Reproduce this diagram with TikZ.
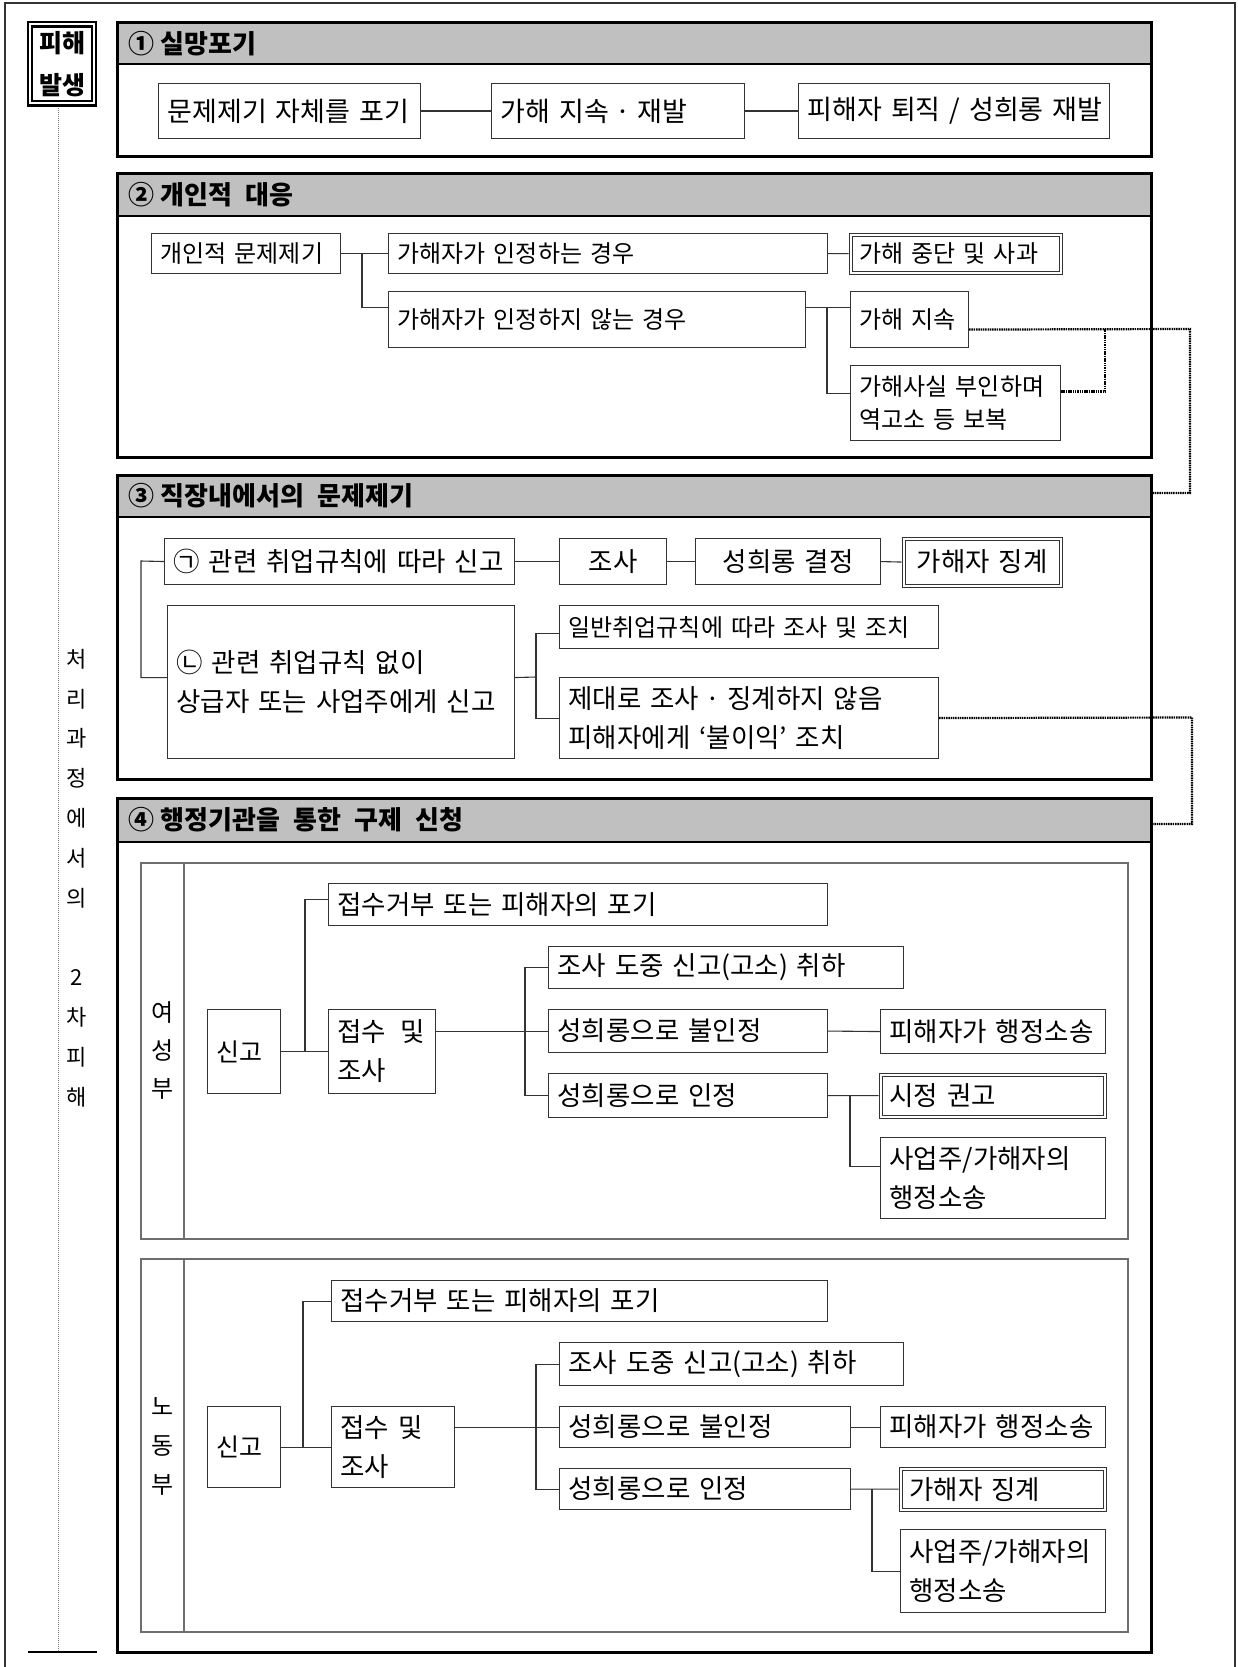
\documentclass[tikz,border=0pt]{standalone}
\usepackage{fontspec}
\setmainfont{Noto Sans CJK KR}[WordSpace=2.2]
\usetikzlibrary{calc}
\definecolor{hdr}{HTML}{C0C0C0}
\definecolor{ln}{HTML}{333333}
\definecolor{frmc}{HTML}{6E6E6E}
\newcommand{\dsp}{\hspace{0.25em}}
\begin{document}
\begin{tikzpicture}[x=1pt,y=-1pt,
  bx/.style={draw=ln, line width=1.1pt, rectangle, anchor=north west, inner xsep=9pt, inner ysep=0pt, align=left},
  cx/.style={bx, align=center},
  dbl/.style={draw=ln, double=white, double distance=1.8pt, line width=1.2pt},
  wh/.code 2 args={\pgfmathsetmacro\bxtw{#1-18}\edef\bxtmp{\noexpand\tikzset{minimum width=#1pt,minimum height=#2pt,text width=\bxtw pt}}\bxtmp},
  con/.style={draw=ln, line width=1.1pt},
  dot/.style={draw=black, line width=2.2pt, dash pattern=on 1.5pt off 0.8pt},
  vdot/.style={draw=gray, line width=0.9pt, dash pattern=on 0.9pt off 1.1pt},
  frm/.style={draw=frmc, line width=1.5pt},
  sec/.style={line width=3pt, draw=black},
  fone/.style={font=\fontsize{27}{34}\selectfont},
  ftwo/.style={font=\fontsize{24}{33}\selectfont},
  fthree/.style={font=\fontsize{26.5}{39.5}\selectfont},
  ffour/.style={font=\fontsize{25}{40}\selectfont},
  ffourb/.style={font=\fontsize{26.5}{39}\selectfont},
  hd/.style={anchor=west, inner sep=0pt, font=\fontsize{26}{30}\selectfont\bfseries},
]
\useasboundingbox (0,0) rectangle (1237,1667);
% outer frame
\draw[line width=1.3pt, draw=ln] (5,1667) -- (5,3) -- (1235,3) -- (1235,1667);

% ---------- sections ----------
\fill[hdr] (117,23) rectangle (1151,64);
\draw[line width=1.3pt] (117,64) -- (1151,64);
\draw[sec] (117,23) rectangle (1151,156);
\node[hd] (h1) at (128,43.5) {①\dsp{}실망포기};

\fill[hdr] (117,173) rectangle (1151,216);
\draw[line width=1.3pt] (117,216) -- (1151,216);
\draw[sec] (117,173) rectangle (1151,457);
\node[hd] (h2) at (128,194.5) {②\dsp{}개인적~대응};

\fill[hdr] (117,475) rectangle (1151,517);
\draw[line width=1.3pt] (117,517) -- (1151,517);
\draw[sec] (117,475) rectangle (1151,779);
\node[hd] (h3) at (128,496) {③\dsp{}직장내에서의~문제제기};

\fill[hdr] (117,798) rectangle (1151,842);
\draw[line width=1.3pt] (117,842) -- (1151,842);
\draw[sec] (117,798) rectangle (1151,1652);
\node[hd] (h4) at (128,820) {④\dsp{}행정기관을~통한~구제~신청};

% ---------- left column ----------
\node[draw=black, double=white, double distance=2pt, line width=2.4pt, minimum width=64pt, minimum height=79pt, inner sep=0pt, align=center, font=\fontsize{25}{42}\selectfont\bfseries] (pb) at (62,64) {피해\\발생};
\coordinate (pe) at (58,1652);
\draw[vdot] (pe |- pb.south) ++(0,3.4) -- (pe);
\coordinate (bl) at (28,1652);
\coordinate (br) at (97,1652);
\draw[line width=1.5pt] (bl) -- (br);
\node[font=\fontsize{22}{39.8}\selectfont, align=center, inner sep=0pt] (vt) at (77,878) {처\\리\\과\\정\\에\\서\\의\\[39.8pt]2\\차\\피\\해};

% ---------- section 1 ----------
\node[bx, wh={262}{55}, fone] (a1) at (158,83) {문제제기~자체를~포기};
\node[bx, wh={253}{55}, fone] (a2) at (491,83) {가해~지속\dsp{}·\dsp{}재발};
\node[bx, wh={311}{55}, fone] (a3) at (798,83) {피해자~퇴직~/~성희롱~재발};
\draw[con] (a1.east) -- (a2.west);
\draw[con] (a2.east) -- (a3.west);

% ---------- section 2 ----------
\node[bx, wh={189}{40}, ftwo] (b1) at (151,233) {개인적~문제제기};
\node[bx, wh={439}{40}, ftwo] (b2) at (388,233) {가해자가~인정하는~경우};
\node[bx, wh={417}{56}, ftwo] (b3) at (388,291) {가해자가~인정하지~않는~경우};
\node[bx, dbl, wh={210}{38}, ftwo] (b4) at (850,234) {가해~중단~및~사과};
\node[bx, wh={118}{56}, ftwo] (b5) at (850,291) {가해~지속};
\node[bx, wh={210}{75}, ftwo] (b6) at (850,365) {가해사실~부인하며\\역고소~등~보복};
\coordinate (j1) at (362,253);
\draw[con] (b1.east) -- (b2.west);
\draw[con] (j1) |- ([yshift=12pt]b3.west);
\draw[con, shorten >=1.5pt] (b2.east) -- (b4.west);
\coordinate (j2) at (827,307);
\draw[con] ([yshift=12pt]b3.east) -- ([yshift=12pt]b5.west);
\draw[con] (j2) |- ([yshift=9.5pt]b6.west);
\coordinate (d1) at (1190,329);
\coordinate (d2) at (1105,329);
\coordinate (s3e) at (1151,493);
\draw[dot] ([yshift=-10pt]b5.east) -- (d1) |- (s3e);
\draw[dot] ([yshift=11.5pt]b6.east) -| (d2);

% ---------- section 3 ----------
\node[bx, wh={350}{46}, fthree] (c1) at (164,538) {㉠~관련~취업규칙에~따라~신고};
\node[cx, wh={107}{46}, fthree] (c2) at (559,538) {조사};
\node[cx, wh={185}{46}, fthree] (c3) at (695,538) {성희롱~결정};
\node[cx, dbl, wh={157}{47}, fthree] (c4) at (903,538) {가해자~징계};
\node[bx, wh={347}{153}, fthree] (c5) at (167,605) {㉡~관련~취업규칙~없이\\상급자~또는~사업주에게~신고};
\node[bx, wh={379}{43}, font=\fontsize{24}{30}\selectfont] (c6) at (559,605) {일반취업규칙에~따라~조사~및~조치};
\node[bx, wh={379}{81}, fthree] (c7) at (559,677) {제대로~조사\dsp{}·\dsp{}징계하지~않음\\피해자에게~‘불이익’~조치};
\draw[con] (c1.east) -- (c2.west);
\draw[con] (c2.east) -- (c3.west);
\draw[con, shorten >=1.5pt] (c3.east) -- (c4.west);
\coordinate (j3) at (141,561);
\draw[con] (c1.west) -- (j3) |- ([yshift=4.5pt]c5.west);
\coordinate (j4) at (536,677);
\draw[con] ([yshift=4.5pt]c5.east) -- (j4);
\draw[con] (j4) |- ([yshift=-6.5pt]c6.west);
\draw[con] (j4) |- (c7.west);
\coordinate (d3) at (1192,717.5);
\coordinate (s4e) at (1151,824);
\draw[dot] (c7.east) -- (d3) |- (s4e);

% ---------- section 4 : 여성부 ----------
\draw[frm] (141,863) rectangle (1128,1239);
\draw[frm] (184,863) -- (184,1239);
\node[font=\fontsize{24}{38}\selectfont, align=center, inner sep=0pt] (ysb) at (162.5,1050) {여\\성\\부};
\node[bx, wh={73}{84}, ffour] (e1) at (207,1009) {신고};
\node[bx, wh={499}{42}, ffourb] (e2) at (328,883) {접수거부~또는~피해자의~포기};
\node[bx, wh={107}{84}, ffourb] (e3) at (328,1009) {\mbox{접수\hspace{0.55em}및}\\조사};
\node[bx, wh={355}{42}, ffourb] (e4) at (548,946) {조사~도중~신고(고소)~취하};
\node[bx, wh={279}{43}, ffourb] (e5) at (548,1009) {성희롱으로~불인정};
\node[bx, wh={279}{44}, ffourb] (e6) at (548,1073) {성희롱으로~인정};
\node[bx, wh={225}{44}, ffourb] (e7) at (880,1009) {피해자가~행정소송};
\node[bx, dbl, wh={224}{42}, ffourb] (e8) at (880,1074) {시정~권고};
\node[bx, wh={225}{81}, ffourb] (e9) at (880,1137) {사업주/가해자의\\행정소송};
\coordinate (j5) at (305,1051);
\draw[con] (e1.east) -- (e3.west);
\draw[con] (j5) |- ([yshift=5pt]e2.west);
\coordinate (j6) at (525,1030.5);
\draw[con] (e3.east |- e5.west) -- (e5.west);
\draw[con] (j6) |- (e4.west);
\draw[con] (j6) |- (e6.west);
\draw[con] (e5.east) -- (e7.west);
\coordinate (j7) at (850,1095);
\draw[con, shorten >=1.5pt] (e6.east) -- (e8.west);
\draw[con] (j7) |- ([yshift=11.5pt]e9.west);

% ---------- section 4 : 노동부 ----------
\draw[frm] (141,1259) rectangle (1128,1632);
\draw[frm] (184,1259) -- (184,1632);
\node[font=\fontsize{24}{39}\selectfont, align=center, inner sep=0pt] (ndb) at (162.5,1446) {노\\동\\부};
\node[bx, wh={73}{81}, ffour] (g1) at (207,1406) {신고};
\node[bx, wh={496}{41}, ffourb] (g2) at (331,1280) {접수거부~또는~피해자의~포기};
\node[bx, wh={123}{81}, ffourb] (g3) at (331,1406) {\mbox{접수~및}\\조사};
\node[bx, wh={344}{43}, ffourb] (g4) at (559,1342) {조사~도중~신고(고소)~취하};
\node[bx, wh={291}{41}, ffourb] (g5) at (559,1406) {성희롱으로~불인정};
\node[bx, wh={291}{41}, ffourb] (g6) at (559,1468) {성희롱으로~인정};
\node[bx, wh={225}{41}, ffourb] (g7) at (880,1406) {피해자가~행정소송};
\node[bx, dbl, wh={204}{41}, ffourb] (g8) at (900,1468) {가해자~징계};
\node[bx, wh={205}{83}, ffourb] (g9) at (900,1529) {사업주/가해자의\\행정소송};
\coordinate (j8) at (303,1446.5);
\draw[con] (g1.east) -- (g3.west);
\draw[con] (j8) |- (g2.west);
\coordinate (j9) at (536,1426.5);
\draw[con] (g3.east |- g5.west) -- (g5.west);
\draw[con] (j9) |- (g4.west);
\draw[con] (j9) |- (g6.west);
\draw[con] (g5.east) -- (g7.west);
\coordinate (j10) at (872,1488.5);
\draw[con, shorten >=1.5pt] (g6.east) -- (g8.west);
\draw[con] (j10) |- (g9.west);
\end{tikzpicture}
\end{document}
